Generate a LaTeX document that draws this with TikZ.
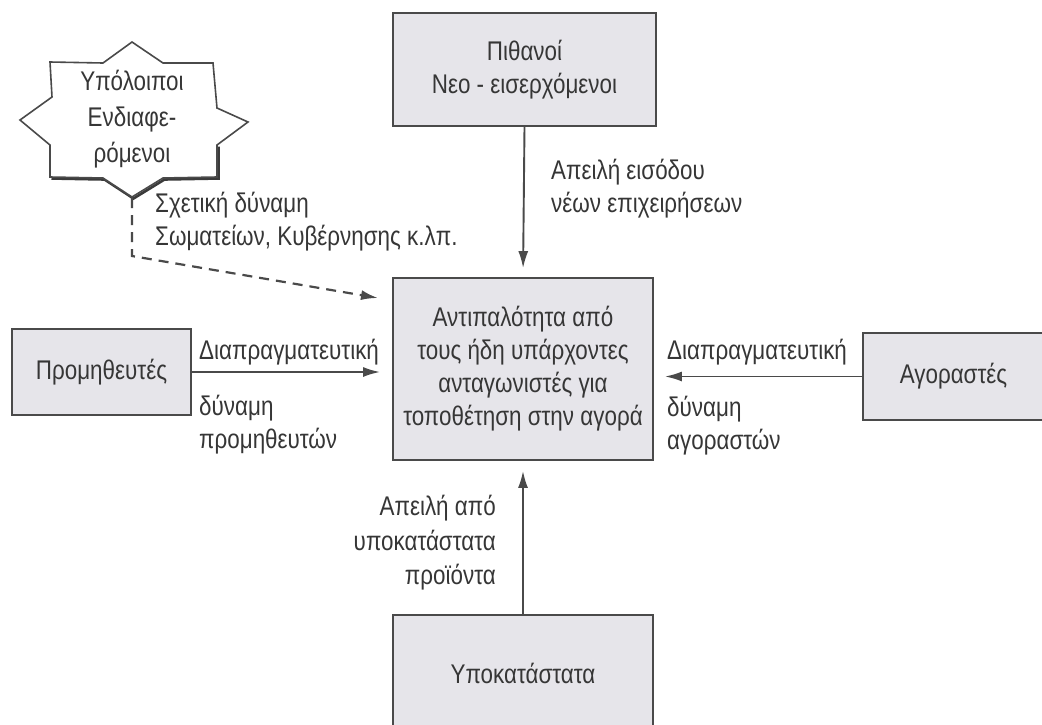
\documentclass[tikz,border=0pt]{standalone}
\usepackage{fontspec}
\setmainfont{Liberation Sans}[FakeStretch=0.83]
\usetikzlibrary{arrows.meta}
\definecolor{ink}{HTML}{363636}
\definecolor{edge}{HTML}{4A4A4A}
\definecolor{panel}{HTML}{E6E5EA}
\begin{document}
\begin{tikzpicture}[x=1pt,y=-1pt,
  box/.style={draw=edge, line width=1.8pt, fill=panel, text=ink, align=center,
    inner sep=0pt, font=\fontsize{27}{33}\selectfont},
  lbl/.style={text=ink, inner sep=0pt, font=\fontsize{27}{33}\selectfont},
  arr/.style={draw=edge, line width=1.9pt, -{Latex[length=17pt,width=10pt]}},
  dashline/.style={draw=edge, line width=2.2pt, dash pattern=on 10pt off 7pt,
    -{Latex[length=17pt,width=10pt]}},
]
\useasboundingbox (0,0) rectangle (1042,724);
\clip (0,0) rectangle (1042,724);
\fill[white] (0,0) rectangle (1042,724);

% boxes
\node[box, minimum width=263pt, minimum height=113pt] (entrants) at (524.5,69.5)
  {Πιθανοί\\Νεο - εισερχόμενοι};
\node[box, minimum width=260pt, minimum height=182pt] (rivalry) at (523,369)
  {Αντιπαλότητα από\\τους ήδη υπάρχοντες\\ανταγωνιστές για\\τοποθέτηση στην αγορά};
\node[box, minimum width=179pt, minimum height=86pt] (suppliers) at (101.5,372)
  {Προμηθευτές};
\node[box, minimum width=181pt, minimum height=87pt] (buyers) at (953.5,376.5)
  {Αγοραστές};
\node[box, minimum width=260pt, minimum height=145pt] (substitutes) at (523,687.5) {};
\node[lbl] (substext) at (523,673) {Υποκατάστατα};

% star-shaped outline for the other stakeholders
\begin{scope}[line join=miter]
\draw[edge!80!black, line width=2.6pt, shift={(1.5,1.5)}]
  (217,145) -- (217,177) -- (163,178) -- (132,197) -- (103,178) -- (50,177);
\draw[edge, line width=1.6pt, fill=white]
  (50,62) -- (103,63) -- (132,42) -- (163,63) -- (213,63) -- (217,108)
  -- (248,122) -- (217,145) -- (217,177) -- (163,178) -- (132,197)
  -- (103,178) -- (50,177) -- (50,145) -- (20,120) -- (52,97) -- cycle;
\end{scope}
\node[lbl, align=center, font=\fontsize{27}{36}\selectfont] (stake) at (132,119)
  {Υπόλοιποι\\Ενδιαφε-\\ρόμενοι};
\coordinate (stakebot) at (132,198);
\coordinate (bend) at (132,256);
\coordinate (dashtip) at (378,298);

% connectors
\draw[arr, shorten >=9pt] (entrants.south) -- (rivalry.north);
\draw[arr, shorten >=10pt] (substitutes.north) -- (rivalry.south);
\draw[arr, shorten >=12pt] (suppliers.east) -- (suppliers.east -| rivalry.west);
\draw[arr, shorten >=11pt] (buyers.west) -- (buyers.west -| rivalry.east);
\draw[dashline] (stakebot) -- (bend) -- (dashtip);

% connector labels
\node[lbl, anchor=west, align=left] (lblentry) at (551,188.5)
  {Απειλή εισόδου\\νέων επιχειρήσεων};
\node[lbl, anchor=west, align=left] (lblstake) at (155,221.5)
  {Σχετική δύναμη\\Σωματείων, Κυβέρνησης κ.λπ.};
\node[lbl, anchor=west] (lblsupA) at (199,352) {Διαπραγματευτική};
\node[lbl, anchor=west, align=left] (lblsupB) at (199,425)
  {δύναμη\\προμηθευτών};
\node[lbl, anchor=west] (lblbuyA) at (667,352) {Διαπραγματευτική};
\node[lbl, anchor=west, align=left] (lblbuyB) at (667,426)
  {δύναμη\\αγοραστών};
\node[lbl, anchor=east, align=right, font=\fontsize{27}{34.5}\selectfont] (lblsubs)
  at (496,543) {Απειλή από\\υποκατάστατα\\προϊόντα};
\end{tikzpicture}
\end{document}
